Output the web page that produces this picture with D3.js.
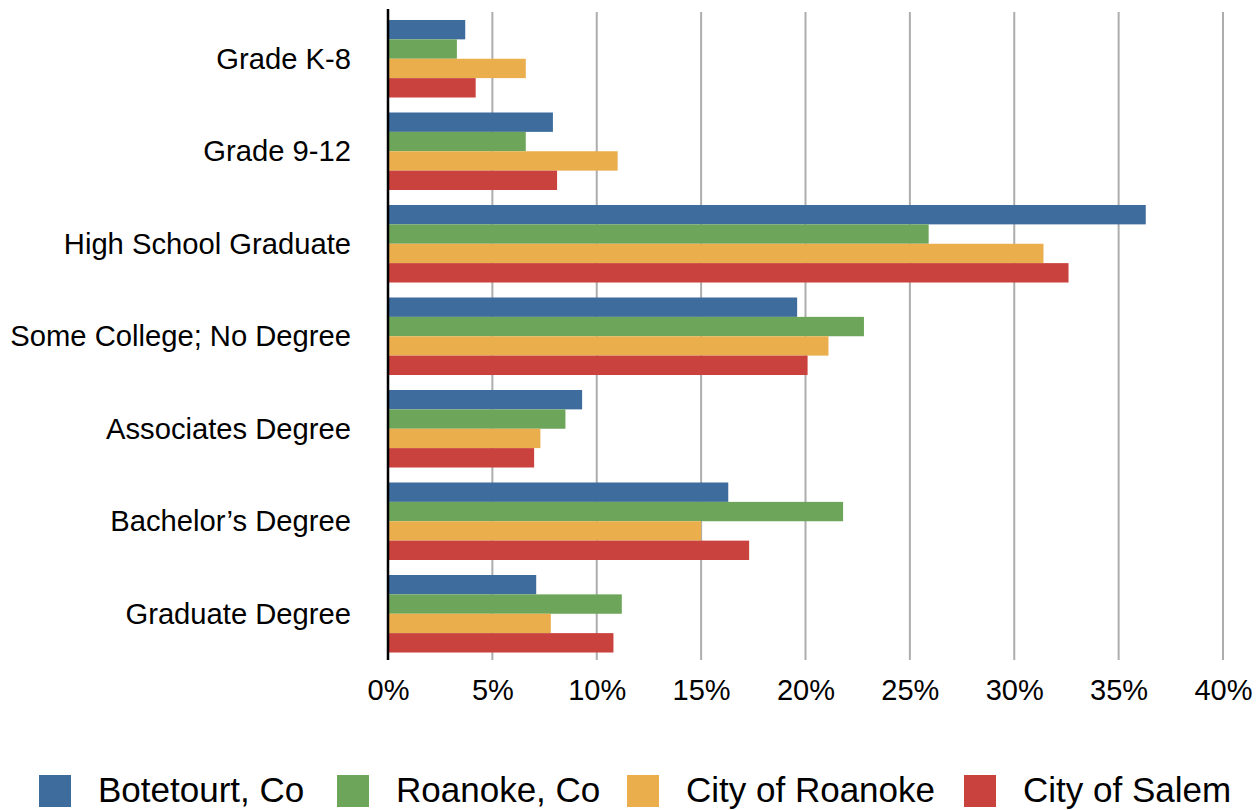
<!DOCTYPE html>
<html>
<head>
<meta charset="utf-8">
<script src="https://cdn.jsdelivr.net/npm/d3@7"></script>
<style>
  html, body { margin: 0; padding: 0; background: #fff; }
  svg { display: block; font-family: "Liberation Sans", Arial, Helvetica, sans-serif; }
</style>
</head>
<body>
<svg id="chart" width="1260" height="810"></svg>
<script>
const categories = ["Grade K-8", "Grade 9-12", "High School Graduate", "Some College; No Degree",
                    "Associates Degree", "Bachelor\u2019s Degree", "Graduate Degree"];
const seriesNames = ["Botetourt, Co", "Roanoke, Co", "City of Roanoke", "City of Salem"];
const botetourt     = [3.7, 7.9, 36.3, 19.6, 9.3, 16.3, 7.1];
const roanokeCo     = [3.3, 6.6, 25.9, 22.8, 8.5, 21.8, 11.2];
const cityOfRoanoke = [6.6, 11.0, 31.4, 21.1, 7.3, 15.0, 7.8];
const cityOfSalem   = [4.2, 8.1, 32.6, 20.1, 7.0, 17.3, 10.8];
const xTicks = [0, 5, 10, 15, 20, 25, 30, 35, 40];
const colors = ["#3d6c9d", "#6da55a", "#ebae4c", "#ca423e"];

const seriesValues = [botetourt, roanokeCo, cityOfRoanoke, cityOfSalem];

const svg = d3.select("#chart");
svg.append("rect").attr("width", 1260).attr("height", 810).attr("fill", "#fff");

const x = d3.scaleLinear().domain([0, 40]).range([388, 1223]);
const y = d3.scaleBand().domain(categories).range([12.5, 660]).paddingInner(0.162).paddingOuter(0.081);
const ySub = d3.scaleBand().domain(d3.range(seriesNames.length)).range([0, y.bandwidth()]);

// gridlines
svg.append("g").selectAll("line")
  .data(xTicks.filter(t => t > 0))
  .join("line")
  .attr("x1", d => x(d)).attr("x2", d => x(d))
  .attr("y1", 12).attr("y2", 660)
  .attr("stroke", "#adadad").attr("stroke-width", 2);

// bars
const rows = categories.map((c, i) => ({ cat: c, vals: seriesValues.map(s => s[i]) }));
const groups = svg.append("g").selectAll("g")
  .data(rows).join("g")
  .attr("transform", d => `translate(0,${y(d.cat)})`);
groups.selectAll("rect")
  .data(d => d.vals.map((v, k) => ({ v, k })))
  .join("rect")
  .attr("x", x(0))
  .attr("y", d => ySub(d.k))
  .attr("width", d => x(d.v) - x(0))
  .attr("height", ySub.bandwidth())
  .attr("fill", d => colors[d.k]);

// x axis labels
const xAxis = d3.axisBottom(x).tickValues(xTicks).tickSize(0).tickPadding(19.4).tickFormat(d => d + "%");
const gx = svg.append("g").attr("transform", "translate(0,660)").call(xAxis);
gx.select(".domain").remove();
gx.selectAll("text").attr("font-size", 29).attr("fill", "#000")
  .attr("font-family", "'Liberation Sans', Arial, Helvetica, sans-serif");

// y axis labels
const yAxis = d3.axisLeft(y).tickSize(0).tickPadding(37);
const gy = svg.append("g").attr("transform", `translate(${x(0)},0)`).call(yAxis);
gy.select(".domain").remove();
gy.selectAll("text").attr("font-size", 29.2).attr("fill", "#000").attr("dy", "0.35em")
  .attr("font-family", "'Liberation Sans', Arial, Helvetica, sans-serif");

// vertical axis line
svg.append("line")
  .attr("x1", x(0)).attr("x2", x(0))
  .attr("y1", 9).attr("y2", 660)
  .attr("stroke", "#000").attr("stroke-width", 2.5);

// legend
const legendX = [39, 337, 627, 964];
const legend = svg.append("g").selectAll("g")
  .data(seriesNames).join("g")
  .attr("transform", (d, k) => `translate(${legendX[k]},775)`);
legend.append("rect").attr("width", 32).attr("height", 32).attr("fill", (d, k) => colors[k]);
legend.append("text").attr("x", 59).attr("y", 27)
  .attr("font-size", 35).attr("fill", "#000").text(d => d);
</script>
</body>
</html>
